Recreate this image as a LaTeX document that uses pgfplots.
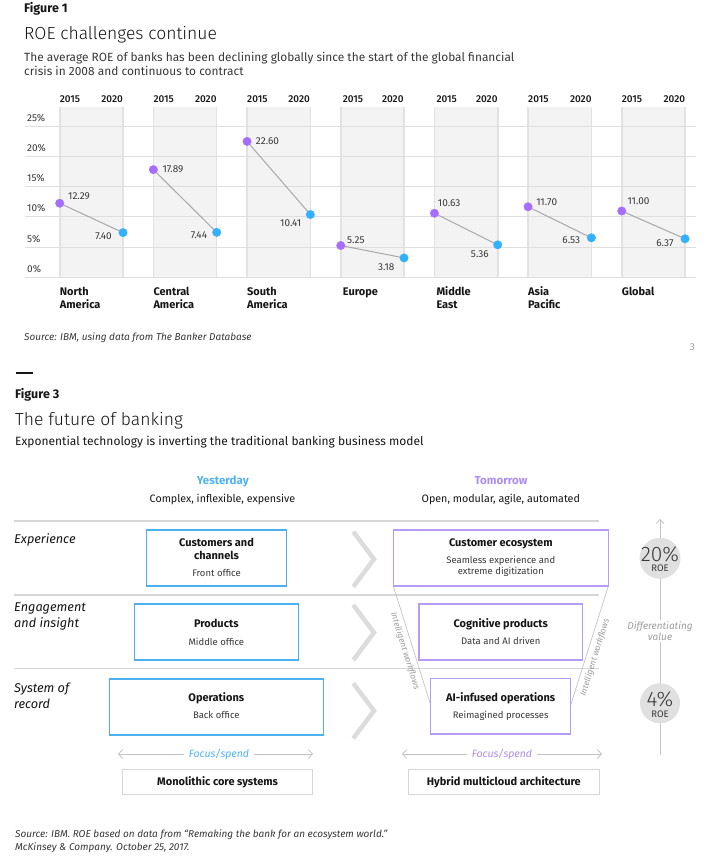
\documentclass[border=0pt]{standalone}
\usepackage{fontspec}
\setmainfont{Fira Sans}
\IfFontExistsTF{Fira Sans Light}{\newfontfamily\lightfont{Fira Sans Light}}{\newfontfamily\lightfont{Fira Sans}}
\IfFontExistsTF{Fira Sans Medium}{\newfontfamily\medfont{Fira Sans Medium}}{\newcommand\medfont{\bfseries}}
\usepackage{pgfplots}
\pgfplotsset{compat=1.18}
\usepackage{pgfplotstable}
\usetikzlibrary{arrows.meta}

\newcommand\fs[1]{\fontsize{#1bp}{#1bp}\selectfont}

\definecolor{purp}{HTML}{A56EFF}
\definecolor{cyanpt}{HTML}{33B1FF}
\definecolor{bandfill}{HTML}{F3F3F3}
\definecolor{bandedge}{HTML}{E2E2E2}
\definecolor{gridc}{HTML}{DEDEDE}
\definecolor{linkc}{HTML}{A8A8A8}
\definecolor{txt}{HTML}{161616}
\definecolor{txt2}{HTML}{393939}
\definecolor{bluebox}{HTML}{4AB0F0}
\definecolor{purpbox}{HTML}{B69CF5}
\definecolor{bluet}{HTML}{4FB3F2}
\definecolor{purpt}{HTML}{AA8EF2}
\definecolor{chev}{HTML}{DCDCDC}
\definecolor{sepc}{HTML}{D6D6D6}
\definecolor{thinc}{HTML}{C4C4C4}
\definecolor{circ}{HTML}{E0E0E0}
\definecolor{soft}{HTML}{9E9E9E}

\pgfplotsset{roebox/.style={
  at={(25bp,-277bp)}, anchor=south west, scale only axis,
  width=671bp, height=170bp,
  xmin=-0.3705, xmax=6.793, ymin=0, ymax=28.33, clip=false, hide axis}}

% ROE 2015 (purple) and 2020 (blue); u = region index, 2020 sits at +0.676
\pgfplotstableread{
u     y     dx   dy    lab
0     12.29 8.3  7     12.29
1     17.89 9    0     17.89
2     22.60 8.7  0     22.60
3     5.25  6.3  5.7   5.25
4     10.63 3.4  10.3  10.63
5     11.70 8    4.3   11.70
6     11.00 5.6  10    11.00
}\roeA
\pgfplotstableread{
u     y     dx    dy    lab
0.676 7.40  -11   -4    7.40
1.676 7.44  -9.4  -2.7  7.44
2.676 10.41 -9    -8.7  10.41
3.676 3.18  -9.4  -9    3.18
4.676 5.36  -8.7  -9.7  5.36
5.676 6.53  -11   -2.7  6.53
6.676 6.37  -11.3 -4    6.37
}\roeB
\pgfplotstableread{
u y
0 12.29
0.676 7.40
nan nan
1 17.89
1.676 7.44
nan nan
2 22.60
2.676 10.41
nan nan
3 5.25
3.676 3.18
nan nan
4 10.63
4.676 5.36
nan nan
5 11.70
5.676 6.53
nan nan
6 11.00
6.676 6.37
}\roeLinks

\begin{document}
\begin{tikzpicture}[x=1bp,y=-1bp]
\fill[white] (0,0) rectangle (708,857);

% ---------- Figure 1 ----------
\node[anchor=base west,inner sep=0,text=txt] at (24,12.7) {\fs{12.5}\bfseries Figure 1};
\node[anchor=base west,inner sep=0,text=txt] at (24,39.3) {\fs{17.5}\lightfont ROE challenges continue};
\node[anchor=base west,inner sep=0,text=txt2] at (24,61) {\fs{11.9}The average ROE of banks has been declining globally since the start of the global financial};
\node[anchor=base west,inner sep=0,text=txt2] at (24,75) {\fs{11.9}crisis in 2008 and continuous to contract};

% grey year bands, grid and percent labels
\begin{axis}[roebox]
  \pgfplotsinvokeforeach{0,1,2,3,4,5,6}{
    \fill[bandfill] (axis cs:#1,0) rectangle (axis cs:#1.676,28.33);
    \draw[bandedge, line width=1.6bp] (axis cs:#1,0) -- (axis cs:#1,28.33);
    \draw[bandedge, line width=1.6bp] (axis cs:#1.676,0) -- (axis cs:#1.676,28.33);
  }
  \pgfplotsinvokeforeach{0,5,10,15,20,25}{
    \draw[gridc, line width=1bp] (axis cs:-0.3705,#1) -- (axis cs:6.793,#1);
    \node[anchor=base west, inner sep=0pt, xshift=2bp, yshift=5bp, text=txt2]
      at (axis cs:-0.3705,#1) {\fs{10}#1\%};
  }
\end{axis}

% ROE points
\begin{axis}[roebox]
\addplot[linkc, line width=1bp, unbounded coords=jump] table[x=u,y=y] {\roeLinks};
\addplot[only marks, mark=*, mark size=4.2bp, color=purp,
  nodes near coords, point meta=explicit symbolic,
  visualization depends on={\thisrow{dx}\as\dx},
  visualization depends on={\thisrow{dy}\as\dy},
  every node near coord/.append style={anchor=west, inner sep=0pt,
    xshift=\dx bp, yshift=\dy bp, font=\fs{10}, text=txt2}]
  table[x=u,y=y,meta=lab] {\roeA};
\addplot[only marks, mark=*, mark size=4.2bp, color=cyanpt,
  nodes near coords, point meta=explicit symbolic,
  visualization depends on={\thisrow{dx}\as\dx},
  visualization depends on={\thisrow{dy}\as\dy},
  every node near coord/.append style={anchor=east, inner sep=0pt,
    xshift=\dx bp, yshift=\dy bp, font=\fs{10}, text=txt2}]
  table[x=u,y=y,meta=lab] {\roeB};
\end{axis}

% year labels and region names
\foreach \xa/\xb in {59.7/123, 153.3/216.7, 247/310, 342.7/403.7, 436.3/497.7, 528/591.7, 621.7/685.3}{
  \node[anchor=base west,inner sep=0,text=txt] at (\xa,102.3) {\fs{10}\medfont 2015};
  \node[anchor=base east,inner sep=0,text=txt] at (\xb,102.3) {\fs{10}\medfont 2020};
}
\foreach \xa/\la/\lb in {59.7/North/America, 153.3/Central/America, 247/South/America, 342.7/Europe/, 436.3/Middle/East, 528/Asia/Pacific, 621.7/Global/}{
  \node[anchor=base west,inner sep=0,text=txt] at (\xa,295.7) {\fs{11}\bfseries \la};
  \node[anchor=base west,inner sep=0,text=txt] at (\xa,308.3) {\fs{11}\bfseries \lb};
}
\node[anchor=base west,inner sep=0,text=txt2] at (24,340.5) {\fs{10}\itshape Source: IBM, using data from The Banker Database};
\node[anchor=base east,inner sep=0,text=soft] at (695,350.5) {\fs{10}3};

% ---------- Figure 3 ----------
\draw[txt, line width=2bp] (15.7,373.3) -- (33.3,373.3);
\node[anchor=base west,inner sep=0,text=txt] at (15,398.3) {\fs{12.5}\bfseries Figure 3};
\node[anchor=base west,inner sep=0,text=txt] at (15,425) {\fs{17.5}\lightfont The future of banking};
\node[anchor=base west,inner sep=0,text=txt] at (15,445) {\fs{12}Exponential technology is inverting the traditional banking business model};

\node[anchor=base,inner sep=0,text=bluet] at (222.8,484) {\fs{11.5}\bfseries Yesterday};
\node[anchor=base,inner sep=0,text=txt] at (222.5,502) {\fs{10.7}Complex, inflexible, expensive};
\node[anchor=base,inner sep=0,text=purpt] at (501,484) {\fs{11.5}\bfseries Tomorrow};
\node[anchor=base,inner sep=0,text=txt] at (500.8,502) {\fs{10.7}Open, modular, agile, automated};

% row separators
\foreach \yy in {521,595,668.5}{\draw[sepc, line width=1.2bp] (14,\yy) -- (599,\yy);}

% row labels
\node[anchor=base west,inner sep=0,text=txt] at (14,543.5) {\fs{12.7}\itshape Experience};
\node[anchor=base west,inner sep=0,text=txt] at (14,611.8) {\fs{12.7}\itshape Engagement};
\node[anchor=base west,inner sep=0,text=txt] at (14,627) {\fs{12.7}\itshape and insight};
\node[anchor=base west,inner sep=0,text=txt] at (14,692.5) {\fs{12.7}\itshape System of};
\node[anchor=base west,inner sep=0,text=txt] at (14,708.5) {\fs{12.7}\itshape record};

% yesterday boxes
\draw[bluebox, line width=1.5bp] (146.3,530) rectangle (286.7,586);
\draw[bluebox, line width=1.5bp] (134.3,604) rectangle (298.3,660);
\draw[bluebox, line width=1.5bp] (109.3,679) rectangle (323.3,735);
\node[anchor=base,inner sep=0,text=txt] at (216.5,546) {\fs{11}\bfseries Customers and};
\node[anchor=base,inner sep=0,text=txt] at (216.5,559.5) {\fs{11}\bfseries channels};
\node[anchor=base,inner sep=0,text=txt2] at (216.5,576) {\fs{9.5}Front office};
\node[anchor=base,inner sep=0,text=txt] at (216.3,627) {\fs{11}\bfseries Products};
\node[anchor=base,inner sep=0,text=txt2] at (216.3,645) {\fs{9.5}Middle office};
\node[anchor=base,inner sep=0,text=txt] at (216.3,701) {\fs{11}\bfseries Operations};
\node[anchor=base,inner sep=0,text=txt2] at (216.3,718) {\fs{9.5}Back office};

% chevrons
\foreach \yt in {531.7,605,683.3}{
  \draw[chev, line width=4.5bp, miter limit=4] (353.3,\yt) -- (374,\yt+27.5) -- (353.3,\yt+55);
}

% tomorrow boxes
\draw[thinc, line width=0.7bp] (393.3,586) -- (430.7,705);
\draw[thinc, line width=0.7bp] (608.3,586) -- (570.7,705);
\draw[purpbox, line width=1.5bp, fill=white] (393.3,530) rectangle (608.3,586);
\draw[purpbox, line width=1.5bp] (419,604) rectangle (582.7,660);
\draw[purpbox, line width=1.5bp, fill=white] (430.7,678.3) rectangle (570.7,734);
\node[anchor=base,inner sep=0,text=txt] at (500.8,546.5) {\fs{11}\bfseries Customer ecosystem};
\node[anchor=base,inner sep=0,text=txt2] at (500.8,563.5) {\fs{9.5}Seamless experience and};
\node[anchor=base,inner sep=0,text=txt2] at (500.8,574.5) {\fs{9.5}extreme digitization};
\node[anchor=base,inner sep=0,text=txt] at (500.8,627) {\fs{11}\bfseries Cognitive products};
\node[anchor=base,inner sep=0,text=txt2] at (500.8,644.5) {\fs{9.5}Data and AI driven};
\node[anchor=base,inner sep=0,text=txt] at (500.7,701) {\fs{11}\bfseries AI-infused operations};
\node[anchor=base,inner sep=0,text=txt2] at (500.7,718.5) {\fs{9.5}Reimagined processes};
\node[rotate=-72.7,inner sep=0,text=soft] at (405,651) {\fs{8.5}\itshape Intelligent workflows};
\node[rotate=72.7,inner sep=0,text=soft] at (595,657.5) {\fs{8.5}\itshape Intelligent workflows};

% focus/spend arrows
\draw[thinc, line width=0.8bp, {Straight Barb[length=4bp,width=9bp]}-{Straight Barb[length=4bp,width=9bp]}] (118,754) -- (313,754);
\node[anchor=base,fill=white,inner xsep=5bp,inner ysep=1bp,text=bluet] at (219,757.5) {\fs{10.5}\itshape Focus/spend};
\draw[thinc, line width=0.8bp, {Straight Barb[length=4bp,width=9bp]}-{Straight Barb[length=4bp,width=9bp]}] (402,754) -- (602,754);
\node[anchor=base,fill=white,inner xsep=5bp,inner ysep=1bp,text=purpt] at (502,757.5) {\fs{10.5}\itshape Focus/spend};

\draw[sepc, line width=1bp] (122.3,769) rectangle (312.9,794);
\draw[sepc, line width=1bp] (408.6,769) rectangle (599,794);
\node[anchor=base,inner sep=0,text=txt] at (217.6,785) {\fs{11}\bfseries Monolithic core systems};
\node[anchor=base,inner sep=0,text=txt] at (503.8,785) {\fs{11}\bfseries Hybrid multicloud architecture};

% ROE scale on the right
\draw[thinc, line width=0.8bp, -{Straight Barb[length=4bp,width=8bp]}] (660,755) -- (660,519);
\fill[circ] (660,558.3) circle (20.5);
\fill[circ] (660,703.3) circle (20);
\node[anchor=base,inner sep=0,text=txt2] at (660,561) {\fs{21}\lightfont 20\%};
\node[anchor=base,inner sep=0,text=txt2] at (660,571) {\fs{9.5}ROE};
\node[anchor=base,inner sep=0,text=txt2] at (660,706) {\fs{21}\lightfont 4\%};
\node[anchor=base,inner sep=0,text=txt2] at (660,717) {\fs{9.5}ROE};
\node[fill=white,inner xsep=1bp,inner ysep=2bp,text=soft,align=center] at (660,631) {\fs{10}\itshape Differentiating\\[-1.5bp]\fs{10}\itshape value};

\node[anchor=base west,inner sep=0,text=txt2] at (15,837) {\fs{10}\itshape Source: IBM. ROE based on data from “Remaking the bank for an ecosystem world.”};
\node[anchor=base west,inner sep=0,text=txt2] at (15,850.5) {\fs{10}\itshape McKinsey \& Company. October 25, 2017.};
\end{tikzpicture}
\end{document}
